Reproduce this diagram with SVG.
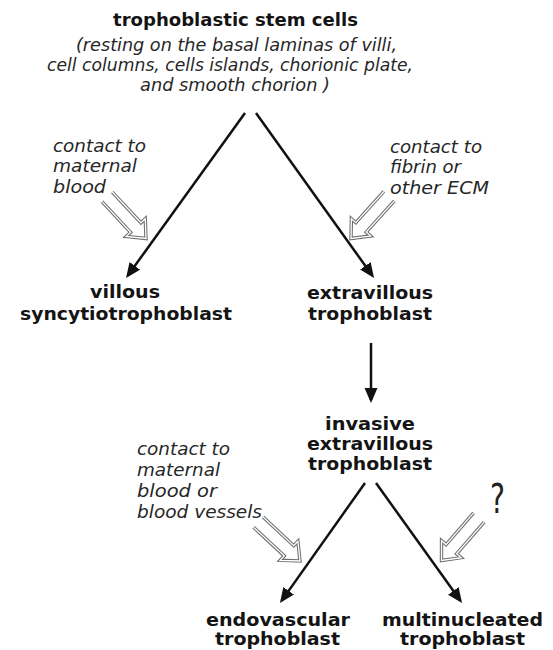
<svg xmlns="http://www.w3.org/2000/svg" xmlns:xlink="http://www.w3.org/1999/xlink" width="553" height="650" viewBox="0 0 553 650">
<style>
  .bold { font-family: "DejaVu Sans", "Liberation Sans", sans-serif; font-weight: bold; font-size: 18px; fill: #141414; text-anchor: middle; }
  .sm { font-size: 17px; }
  .ital { font-family: "DejaVu Sans", "Liberation Sans", sans-serif; font-style: italic; font-size: 18px; fill: #262626; }
  .italc { text-anchor: middle; }
  .conn { stroke: #111; stroke-width: 2.5; fill: none; marker-end: url(#ah); }
  .hout { fill: none; stroke: #6e6e6e; stroke-width: 3.4; stroke-linejoin: miter; }
  .hin { fill: none; stroke: #ffffff; stroke-width: 1.3; stroke-linejoin: miter; }
  .q { font-family: "DejaVu Sans", "Liberation Sans", sans-serif; font-size: 40px; fill: #222; text-anchor: middle; }
</style>
<defs>
  <marker id="ah" markerUnits="userSpaceOnUse" markerWidth="16" markerHeight="14" refX="12" refY="6.5" orient="auto">
    <path d="M0,0 L15,6.5 L0,13 z" fill="#111"/>
  </marker>
  <path id="hpath" d="M-57,-7 L-15,-7 L-15,-13 L0,0 L-15,13 L-15,7 L-57,7"/>
  <g id="hollow">
    <use xlink:href="#hpath" class="hout"/>
    <use xlink:href="#hpath" class="hin"/>
  </g>
</defs>
<rect width="553" height="650" fill="#ffffff"/>

<g id="stem-cells">
  <text class="bold" x="235.5" y="26" textLength="245" lengthAdjust="spacingAndGlyphs">trophoblastic stem cells</text>
  <text class="ital italc" x="236.5" y="51" textLength="321" lengthAdjust="spacingAndGlyphs">(resting on the basal laminas of villi,</text>
  <text class="ital italc" x="230" y="71" textLength="366" lengthAdjust="spacingAndGlyphs">cell columns, cells islands, chorionic plate,</text>
  <text class="ital italc" x="235" y="91" textLength="190" lengthAdjust="spacingAndGlyphs">and smooth chorion )</text>
</g>

<g id="villous-syncytiotrophoblast">
  <text class="bold" x="125" y="298" textLength="70" lengthAdjust="spacingAndGlyphs">villous</text>
  <text class="bold" x="126" y="320" textLength="212" lengthAdjust="spacingAndGlyphs">syncytiotrophoblast</text>
</g>

<g id="extravillous-trophoblast">
  <text class="bold" x="370" y="299" textLength="126" lengthAdjust="spacingAndGlyphs">extravillous</text>
  <text class="bold" x="370" y="320" textLength="124" lengthAdjust="spacingAndGlyphs">trophoblast</text>
</g>

<g id="invasive-extravillous-trophoblast">
  <text class="bold" x="370" y="430" textLength="90" lengthAdjust="spacingAndGlyphs">invasive</text>
  <text class="bold" x="370" y="450" textLength="126" lengthAdjust="spacingAndGlyphs">extravillous</text>
  <text class="bold" x="370" y="470" textLength="124" lengthAdjust="spacingAndGlyphs">trophoblast</text>
</g>

<g id="endovascular-trophoblast">
  <text class="bold sm" x="278" y="626" textLength="144" lengthAdjust="spacingAndGlyphs">endovascular</text>
  <text class="bold sm" x="277.5" y="645" textLength="125" lengthAdjust="spacingAndGlyphs">trophoblast</text>
</g>

<g id="multinucleated-trophoblast">
  <text class="bold sm" x="462.5" y="626" textLength="161" lengthAdjust="spacingAndGlyphs">multinucleated</text>
  <text class="bold sm" x="462.5" y="645" textLength="125" lengthAdjust="spacingAndGlyphs">trophoblast</text>
</g>

<g id="connectors">
  <line class="conn" x1="245" y1="113" x2="127.8" y2="275.6"/>
  <line class="conn" x1="256" y1="113" x2="372.3" y2="275.6"/>
  <line class="conn" x1="371" y1="343" x2="371" y2="400"/>
  <line class="conn" x1="365" y1="483" x2="281.7" y2="600.6"/>
  <line class="conn" x1="376" y1="483" x2="460.3" y2="600.6"/>
</g>

<g id="influences">
  <g id="influence-maternal-blood">
    <text class="ital" x="53" y="152" textLength="93" lengthAdjust="spacingAndGlyphs">contact to</text>
    <text class="ital" x="53" y="172" textLength="84" lengthAdjust="spacingAndGlyphs">maternal</text>
    <text class="ital" x="53" y="193" textLength="53" lengthAdjust="spacingAndGlyphs">blood</text>
    <use xlink:href="#hollow" transform="translate(146,238.5) rotate(47)"/>
  </g>
  <g id="influence-fibrin">
    <text class="ital" x="390" y="152.5" textLength="92" lengthAdjust="spacingAndGlyphs">contact to</text>
    <text class="ital" x="390" y="172.5" textLength="71" lengthAdjust="spacingAndGlyphs">fibrin or</text>
    <text class="ital" x="390" y="194" textLength="99" lengthAdjust="spacingAndGlyphs">other ECM</text>
    <use xlink:href="#hollow" transform="translate(351,238.5) rotate(132)"/>
  </g>
  <g id="influence-blood-vessels">
    <text class="ital" x="137" y="455" textLength="93" lengthAdjust="spacingAndGlyphs">contact to</text>
    <text class="ital" x="137" y="476" textLength="83" lengthAdjust="spacingAndGlyphs">maternal</text>
    <text class="ital" x="137" y="497" textLength="80" lengthAdjust="spacingAndGlyphs">blood or</text>
    <text class="ital" x="137" y="518" textLength="125" lengthAdjust="spacingAndGlyphs">blood vessels</text>
    <use xlink:href="#hollow" transform="translate(300,561) rotate(43)"/>
  </g>
  <g id="influence-unknown">
    <text class="q" x="497.5" y="513" textLength="15" lengthAdjust="spacingAndGlyphs">?</text>
    <use xlink:href="#hollow" transform="translate(441.5,560.5) rotate(131)"/>
  </g>
</g>
</svg>
